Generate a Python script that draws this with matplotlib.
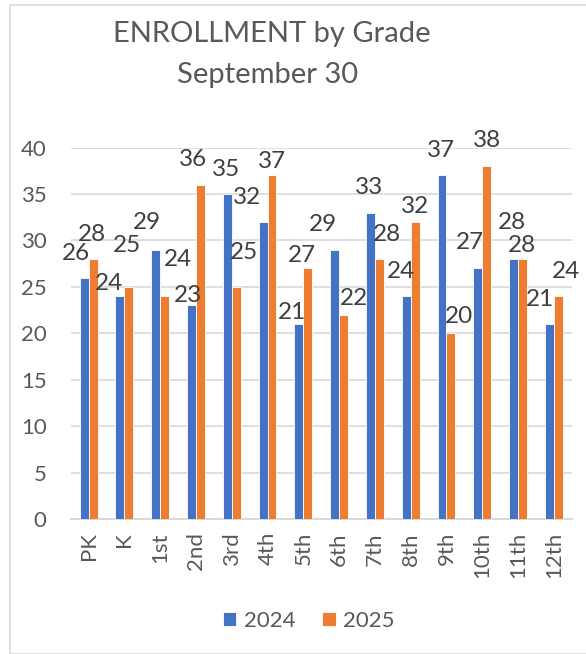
import matplotlib
matplotlib.use("Agg")
import matplotlib.pyplot as plt
from matplotlib.patches import Rectangle
import numpy as np

# ---- data ----
grades = ["PK", "K", "1st", "2nd", "3rd", "4th", "5th", "6th", "7th", "8th", "9th", "10th", "11th", "12th"]
enroll_2024 = [26, 24, 29, 23, 35, 32, 21, 29, 33, 24, 37, 27, 28, 21]
enroll_2025 = [28, 25, 24, 36, 25, 37, 27, 22, 28, 32, 20, 38, 28, 24]
series_names = ["2024", "2025"]
y_ticks = [0, 5, 10, 15, 20, 25, 30, 35, 40]

# ---- label placement (pixel offsets from bar top centre, as in the reference) ----
off_2024 = [(-8.6, 23.7), (-10.9, 12.3), (-9, 27.4), (-3.8, 9.6), (-1.3, 24.2), (-16.4, 24),
            (-7, 11), (-11.7, 25), (-1.5, 24.8), (-5.3, 25), (-1, 24.6), (-8.2, 26),
            (-1.4, 36.7), (-9.5, 24)]
off_2025 = [(-1.1, 24.2), (-2.2, 41), (13.3, 36.3), (-7.8, 25), (7.4, 34), (0, 13.6),
            (-6, 12.4), (10.8, 15.8), (7.2, 24), (0, 15), (8, 16.4), (0, 25.4),
            (-0.7, 13.2), (7.5, 25)]

FONT = "Lato"
plt.rcParams["font.family"] = [FONT, "DejaVu Sans"]

W, H = 586, 654
fig = plt.figure(figsize=(W / 100, H / 100), dpi=100)
fig.patch.set_facecolor("white")

# chart border
fig.patches.append(Rectangle((10 / W, 0), 1.2, 1 - 5 / H, transform=fig.transFigure,
                             fill=False, edgecolor="#d9d9d9", linewidth=1.2))

ax_left, ax_right = 70.7, 571.7
ax_top, ax_bot = 147.5, 519
ax = fig.add_axes([ax_left / W, 1 - ax_bot / H, (ax_right - ax_left) / W, (ax_bot - ax_top) / H])

x = np.arange(len(grades))
bw = 0.25
c1, c2 = "#4472c4", "#ed7d31"
b1 = ax.bar(x - bw / 2, enroll_2024, bw, color=c1, edgecolor="white", linewidth=0.6, zorder=3, label=series_names[0])
b2 = ax.bar(x + bw / 2, enroll_2025, bw, color=c2, edgecolor="white", linewidth=0.6, zorder=3, label=series_names[1])

ax.set_xlim(-0.5, len(grades) - 0.5)
ax.set_ylim(0, 40)
ax.set_yticks(y_ticks)
ax.yaxis.grid(True, color="#d9d9d9", linewidth=1.2, zorder=0)
ax.set_axisbelow(True)
for s in ["top", "right", "left"]:
    ax.spines[s].set_visible(False)
ax.spines["bottom"].set_color("#d9d9d9")
ax.spines["bottom"].set_linewidth(1.5)
ax.tick_params(axis="both", length=0, labelsize=16, colors="#595959")
ax.tick_params(axis="y", pad=17.3)
ax.tick_params(axis="x", pad=9.4)
ax.set_xticks(x)
ax.set_xticklabels(grades, rotation=90, va="top", ha="center")

for bars, vals, offs in ((b1, enroll_2024, off_2024), (b2, enroll_2025, off_2025)):
    for bar, v, (dx, dy) in zip(bars, vals, offs):
        ax.annotate(str(v), (bar.get_x() + bar.get_width() / 2, v), xytext=(dx, dy),
                    textcoords="offset pixels", ha="center", va="center",
                    fontsize=17.5, color="#404040", zorder=5)

# title
fig.text(272 / W, 1 - 42 / H, "ENROLLMENT by Grade", ha="center", va="baseline",
         fontsize=21, color="#595959")
fig.text(268 / W, 1 - 83 / H, "September 30", ha="center", va="baseline",
         fontsize=21, color="#595959")

leg = fig.legend(handles=[b1, b2], labels=series_names, loc="center",
                 bbox_to_anchor=(309 / W, 1 - 621 / H), ncol=2, frameon=False,
                 fontsize=16, handlelength=0.6, handleheight=0.6, handletextpad=0.35,
                 columnspacing=1.2, labelcolor="#595959")

fig.savefig("out.png", dpi=100, facecolor="white")
